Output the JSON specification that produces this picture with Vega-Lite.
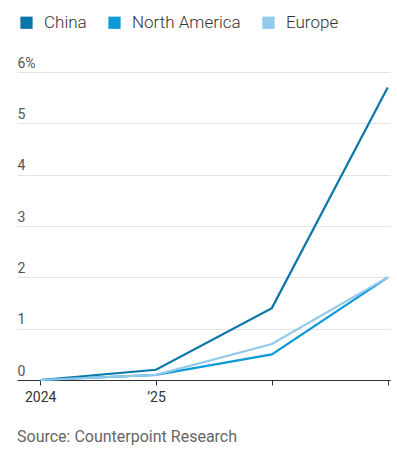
{
  "$schema": "https://vega.github.io/schema/vega-lite/v6.json",
  "width": 373,
  "height": 308,
  "autosize": {"type": "none"},
  "padding": {"left": 17, "right": 7, "top": 72, "bottom": 80},
  "background": "white",
  "config": {
    "view": {"stroke": null},
    "font": "Roboto"
  },
  "title": {
    "text": "Source: Counterpoint Research",
    "orient": "bottom",
    "anchor": "start",
    "frame": "group",
    "offset": 25,
    "fontSize": 16,
    "fontWeight": "normal",
    "color": "#666666",
    "font": "Roboto"
  },
  "data": {
    "values": [
      {"year": 2024, "region": "China", "share": 0},
      {"year": 2025, "region": "China", "share": 0.2},
      {"year": 2026, "region": "China", "share": 1.4},
      {"year": 2027, "region": "China", "share": 5.7},
      {"year": 2024, "region": "North America", "share": 0},
      {"year": 2025, "region": "North America", "share": 0.1},
      {"year": 2026, "region": "North America", "share": 0.5},
      {"year": 2027, "region": "North America", "share": 2.0},
      {"year": 2024, "region": "Europe", "share": 0},
      {"year": 2025, "region": "Europe", "share": 0.1},
      {"year": 2026, "region": "Europe", "share": 0.7},
      {"year": 2027, "region": "Europe", "share": 2.0}
    ]
  },
  "mark": {"type": "line", "strokeWidth": 2.2},
  "encoding": {
    "x": {
      "field": "year",
      "type": "quantitative",
      "scale": {"domain": [2023.8, 2027.02], "nice": false, "zero": false},
      "axis": {
        "title": null,
        "values": [2024, 2025, 2026, 2027],
        "grid": false,
        "domainColor": "#333333",
        "domainWidth": 1,
        "tickColor": "#333333",
        "tickSize": 5,
        "labelFontSize": 14,
        "labelColor": "#333333",
        "labelPadding": 5,
        "labelExpr": "datum.value == 2024 ? '2024' : (datum.value == 2025 ? '’25' : '')"
      }
    },
    "y": {
      "field": "share",
      "type": "quantitative",
      "scale": {"domain": [0, 6], "nice": false},
      "axis": {
        "title": null,
        "values": [0, 1, 2, 3, 4, 5, 6],
        "domain": false,
        "ticks": false,
        "tickSize": 0,
        "gridColor": "#e4e4e4",
        "gridWidth": 1,
        "labelAlign": "left",
        "labelBaseline": "bottom",
        "labelPadding": 0,
        "labelOffset": -2,
        "labelFontSize": 14,
        "labelColor": "#555555",
        "labelExpr": "datum.value == 6 ? '6%' : datum.label"
      }
    },
    "color": {
      "field": "region",
      "type": "nominal",
      "scale": {
        "domain": ["China", "North America", "Europe"],
        "range": ["#0b77a8", "#0d9ad8", "#92c9ec"]
      },
      "legend": {
        "title": null,
        "orient": "none",
        "legendX": 1,
        "legendY": -58,
        "direction": "horizontal",
        "symbolType": "square",
        "symbolSize": 150,
        "symbolStrokeWidth": 0,
        "labelFontSize": 17,
        "labelFontWeight": 300,
        "labelColor": "#333333",
        "labelOffset": 9,
        "columnPadding": 19,
        "symbolOpacity": 1,
        "encode": {
          "symbols": {
            "update": {
              "fill": {"scale": "color", "field": "value"},
              "fillOpacity": {"value": 1},
              "strokeWidth": {"value": 0}
            }
          }
        }
      }
    }
  }
}
